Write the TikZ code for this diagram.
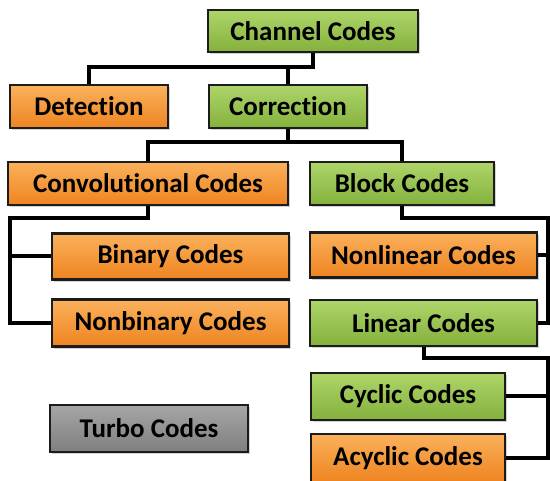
\documentclass[tikz,border=0pt]{standalone}
\usepackage{fontspec}
\setmainfont{Carlito}[Ligatures=NoCommon]
\usetikzlibrary{shadows}
\definecolor{orgtop}{HTML}{FBB15C}
\definecolor{orgbot}{HTML}{EE8420}
\definecolor{grntop}{HTML}{AED56A}
\definecolor{grnbot}{HTML}{84B13C}
\definecolor{grytop}{HTML}{A6A6A6}
\definecolor{grybot}{HTML}{7F7F7F}
\definecolor{edge}{HTML}{1C1C1C}
\tikzset{
  box/.style={draw=edge, line width=2.2pt, inner sep=0pt,
    font=\fontsize{27}{30}\selectfont\bfseries, text=black,
    drop shadow={opacity=0.35, shadow xshift=2pt, shadow yshift=-2.5pt}},
  obox/.style={box, top color=orgtop, bottom color=orgbot},
  gbox/.style={box, top color=grntop, bottom color=grnbot},
  kbox/.style={box, top color=grytop, bottom color=grybot},
  conn/.style={line width=4pt, draw=black}
}
\begin{document}
\begin{tikzpicture}[x=1pt, y=-1pt]
\useasboundingbox (0,0) rectangle (550,481);
% connector buses
\coordinate (cbus) at (10,218);
\coordinate (bbus) at (548,218);
\coordinate (lbus) at (548,358);
% boxes
\node[gbox, minimum width=210pt, minimum height=42pt] (cc)   at (313,31)    {Channel Codes};
\node[obox, minimum width=158pt, minimum height=43pt] (det)  at (89,106.5)  {Detection};
\node[gbox, minimum width=158pt, minimum height=43pt] (cor)  at (288,106.5) {Correction};
\node[obox, minimum width=280pt, minimum height=43pt] (conv) at (148,183.5) {Convolutional Codes};
\node[gbox, minimum width=184pt, minimum height=43pt] (blk)  at (402,183.5) {Block Codes};
\node[obox, minimum width=237pt, minimum height=46pt] (bin)  at (170.5,256.5) {Binary Codes};
\node[obox, minimum width=237pt, minimum height=47pt] (nb)   at (170.5,323) {Nonbinary Codes};
\node[obox, minimum width=227pt, minimum height=45pt] (nl)   at (423.5,255) {Nonlinear Codes};
\node[gbox, minimum width=227pt, minimum height=46pt] (lin)  at (423.5,323) {Linear Codes};
\node[gbox, minimum width=194pt, minimum height=47pt] (cyc)  at (408,396.5) {Cyclic Codes};
\node[obox, minimum width=194pt, minimum height=48pt] (acy)  at (408,458)   {Acyclic Codes};
\node[kbox, minimum width=198pt, minimum height=47pt] (tur)  at (149,428.5) {Turbo Codes};
% connectors
\draw[conn] (cc.south) -- ++(0,14) -| (det.north);
\draw[conn] (cor.north) -- ++(0,-19);
\draw[conn] (cor.south) -- ++(0,12.5) -| (conv.north);
\draw[conn] (cor.south) -- ++(0,12.5) -| (blk.north);
\draw[conn] (conv.south) |- (cbus) |- (nb.west);
\draw[conn] (bin.west) -- (bin.west -| cbus);
\draw[conn] (blk.south) |- (bbus) |- (lin.east);
\draw[conn] (nl.east) -- (nl.east -| bbus);
\draw[conn] (lin.south) |- (lbus) |- (acy.east);
\draw[conn] (cyc.east) -- (cyc.east -| lbus);
\end{tikzpicture}
\end{document}
